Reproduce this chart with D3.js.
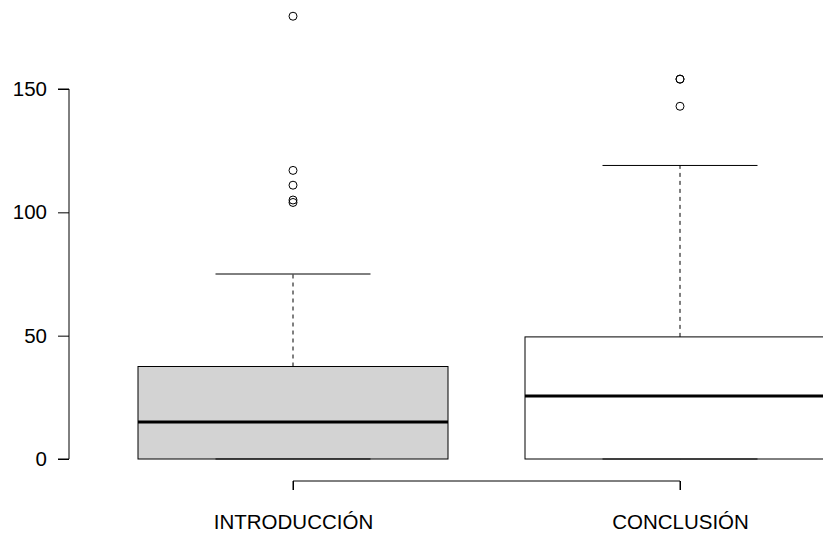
<!DOCTYPE html>
<html><head><meta charset="utf-8">
<script src="https://cdn.jsdelivr.net/npm/d3@7"></script>
<style>body{margin:0;background:#fff}svg{display:block}text{font-family:"Liberation Sans",Arial,Helvetica,sans-serif}</style>
</head><body><svg id="c" width="823" height="535"></svg>
<script>
const categories = ["INTRODUCCIÓN", "CONCLUSIÓN"];
const lowerWhisker = [0, 0];
const q1 = [0, 0];
const medians = [15, 25.5];
const q3 = [37.5, 49.5];
const upperWhisker = [75, 119];
const outliers = [[179.5, 117, 111, 105, 104], [154, 154, 143]];
const fills = ["#D3D3D3", "#FFFFFF"];
const yTicks = [0, 50, 100, 150];

const svg = d3.select("#c");
const y = d3.scaleLinear().domain([0, 150]).range([459, 89]);
const x = d3.scalePoint().domain(categories).range([293, 680]);
const boxW = 310, capW = 155;
const fs = 20.5;

// y axis
const ya = svg.append("g").attr("transform", "translate(69,0)")
  .call(d3.axisLeft(y).tickValues(yTicks).tickSize(11).tickPadding(11).tickFormat(d3.format("d")));
ya.select(".domain").attr("stroke", "#000").attr("d", `M-11,${y(0)}H0V${y(150)}H-11`);
ya.selectAll(".tick line").attr("stroke", "#000");
ya.selectAll("text").attr("font-size", fs).attr("font-family", "Liberation Sans, Arial, sans-serif").attr("fill", "#000");

// x axis
const xa = svg.append("g").attr("transform", "translate(0,481)")
  .call(d3.axisBottom(x).tickSize(9).tickPadding(24));
xa.select(".domain").attr("stroke", "#000").attr("d", `M${x(categories[0])},9V0H${x(categories[1])}V9`);
xa.selectAll(".tick line").attr("stroke", "#000");
xa.selectAll("text").attr("font-size", fs).attr("font-family", "Liberation Sans, Arial, sans-serif").attr("fill", "#000");

categories.forEach((c, i) => {
  const cx = x(c);
  const g = svg.append("g");
  g.append("line").attr("x1", cx).attr("x2", cx).attr("y1", y(q3[i])).attr("y2", y(upperWhisker[i]))
    .attr("stroke", "#000").attr("stroke-dasharray", "4,4");
  g.append("line").attr("x1", cx).attr("x2", cx).attr("y1", y(q1[i])).attr("y2", y(lowerWhisker[i]))
    .attr("stroke", "#000").attr("stroke-dasharray", "4,4");
  g.append("rect").attr("x", cx - boxW / 2).attr("width", boxW)
    .attr("y", y(q3[i])).attr("height", y(q1[i]) - y(q3[i]))
    .attr("fill", fills[i]).attr("stroke", "#000").attr("stroke-width", 1);
  g.append("line").attr("x1", cx - capW / 2).attr("x2", cx + capW / 2).attr("y1", y(upperWhisker[i])).attr("y2", y(upperWhisker[i])).attr("stroke", "#000");
  g.append("line").attr("x1", cx - capW / 2).attr("x2", cx + capW / 2).attr("y1", y(lowerWhisker[i])).attr("y2", y(lowerWhisker[i])).attr("stroke", "#000");
  g.append("line").attr("x1", cx - boxW / 2).attr("x2", cx + boxW / 2).attr("y1", y(medians[i])).attr("y2", y(medians[i]))
    .attr("stroke", "#000").attr("stroke-width", 3);
  g.selectAll("circle").data(outliers[i]).join("circle")
    .attr("cx", cx).attr("cy", d => y(d)).attr("r", 4)
    .attr("fill", "none").attr("stroke", "#000").attr("stroke-width", 1);
});
</script></body></html>
